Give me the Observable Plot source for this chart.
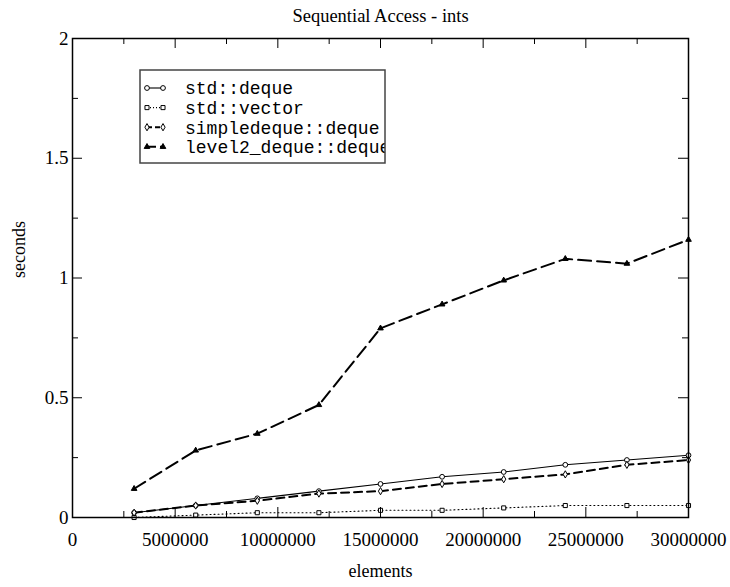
<!DOCTYPE html>
<html><head><meta charset="utf-8">
<script src="https://cdn.jsdelivr.net/npm/d3@7"></script>
<script src="https://cdn.jsdelivr.net/npm/@observablehq/plot@0.6"></script>
<style>body{margin:0;background:#fff} svg{display:block}</style>
</head><body><div id="chart"></div>
<script>
// ---- data ----
const sizes = [3000000, 6000000, 9000000, 12000000, 15000000, 18000000, 21000000, 24000000, 27000000, 30000000];
const stdDeque = [0.02, 0.05, 0.08, 0.11, 0.14, 0.17, 0.19, 0.22, 0.24, 0.26];
const stdVector = [0.00, 0.01, 0.02, 0.02, 0.03, 0.03, 0.04, 0.05, 0.05, 0.05];
const simpleDeque = [0.02, 0.05, 0.07, 0.10, 0.11, 0.14, 0.16, 0.18, 0.22, 0.24];
const level2Deque = [0.12, 0.28, 0.35, 0.47, 0.79, 0.89, 0.99, 1.08, 1.06, 1.16];
const seriesNames = ["std::deque", "std::vector", "simpledeque::deque", "level2_deque::deque"];
const xMajor = [0, 5000000, 10000000, 15000000, 20000000, 25000000, 30000000];
const xMinor = [2500000, 7500000, 12500000, 17500000, 22500000, 27500000];
const yMajor = [0, 0.5, 1, 1.5, 2];
const yMinor = [0.25, 0.75, 1.25, 1.75];
const titleText = "Sequential Access - ints";
const xLabel = "elements";
const yLabel = "seconds";

// ---- styles ----
const styles = [
  {dash: null, width: 1.1, symbol: "circle", fill: "white", r: 2.4, legDash: null},
  {dash: "1,3", width: 1.1, symbol: "square", fill: "white", r: 2.3, legDash: "1,2"},
  {dash: "8,5", width: 2, symbol: "diamond", fill: "white", r: 2.2, legDash: "5,3"},
  {dash: "13,6", width: 2, symbol: "triangle", fill: "black", r: 2.1, legDash: "9,4"}
];
const values = [stdDeque, stdVector, simpleDeque, level2Deque];
const series = seriesNames.map((name, i) => sizes.map((x, j) => ({name, x, y: values[i][j]})));

const W = 730, H = 587;
const mL = 72, mR = 42, mT = 38, mB = 70;
const fW = W - mL - mR, fH = H - mT - mB;
const serif = "Liberation Serif, Times New Roman, serif";

const marks = [];
series.forEach((s, i) => {
  const st = styles[i];
  marks.push(Plot.line(s, {x: "x", y: "y", stroke: "black", strokeWidth: st.width, strokeDasharray: st.dash}));
});
series.forEach((s, i) => {
  const st = styles[i];
  marks.push(Plot.dot(s, {x: "x", y: "y", symbol: () => st.symbol, r: st.r, fill: st.fill, stroke: "black", strokeWidth: 1}));
});
// inward ticks on all sides
marks.push(
  Plot.ruleX(xMajor, {x: d => d, insetTop: fH - 10, stroke: "black", strokeWidth: 1}),
  Plot.ruleX(xMinor, {x: d => d, insetTop: fH - 6, stroke: "black", strokeWidth: 1}),
  Plot.ruleX(xMajor, {x: d => d, insetBottom: fH - 10, stroke: "black", strokeWidth: 1}),
  Plot.ruleX(xMinor, {x: d => d, insetBottom: fH - 6, stroke: "black", strokeWidth: 1}),
  Plot.ruleY(yMajor, {y: d => d, insetRight: fW - 10, stroke: "black", strokeWidth: 1}),
  Plot.ruleY(yMinor, {y: d => d, insetRight: fW - 6, stroke: "black", strokeWidth: 1}),
  Plot.ruleY(yMajor, {y: d => d, insetLeft: fW - 10, stroke: "black", strokeWidth: 1}),
  Plot.ruleY(yMinor, {y: d => d, insetLeft: fW - 6, stroke: "black", strokeWidth: 1}),
  Plot.frame({stroke: "black", strokeWidth: 1.5}),
  Plot.text(xMajor, {x: d => d, text: d => d3.format("d")(d), frameAnchor: "bottom", dy: 22, lineAnchor: "middle", fontSize: 19, fill: "black"}),
  Plot.text(yMajor, {y: d => d, text: d => String(d), frameAnchor: "left", dx: -4, textAnchor: "end", lineAnchor: "middle", fontSize: 19, fill: "black"}),
  Plot.text([titleText], {text: d => d, frameAnchor: "top", dy: -22, lineAnchor: "middle", fontSize: 18.5, fill: "black"}),
  Plot.text([xLabel], {text: d => d, frameAnchor: "bottom", dy: 54, lineAnchor: "middle", fontSize: 18, fill: "black"}),
  Plot.text([yLabel], {text: d => d, frameAnchor: "left", dx: -53, rotate: -90, lineAnchor: "middle", fontSize: 18, fill: "black"})
);

const plot = Plot.plot({
  width: W, height: H,
  marginLeft: mL, marginRight: mR, marginTop: mT, marginBottom: mB,
  x: {domain: [0, 30000000], axis: null},
  y: {domain: [0, 2], axis: null},
  style: {fontFamily: serif, fontSize: "18px", background: "white", color: "black", overflow: "visible"},
  marks
});
document.getElementById("chart").appendChild(plot);

// ---- legend (inside frame, top-left) ----
const svg = d3.select(plot);
const lx = mL + 68, ly = mT + 32, lw = 245, lh = 93;
const g = svg.append("g").attr("text-anchor", "start");
g.append("clipPath").attr("id", "legclip").append("rect")
  .attr("x", lx).attr("y", ly).attr("width", lw).attr("height", lh);
g.append("rect").attr("x", lx).attr("y", ly).attr("width", lw).attr("height", lh)
  .attr("fill", "white").attr("stroke", "none");
const symMap = {circle: d3.symbolCircle, square: d3.symbolSquare, diamond: d3.symbolDiamond, triangle: d3.symbolTriangle};
seriesNames.forEach((name, i) => {
  const st = styles[i];
  const y = ly + 18 + i * 19.6;
  const x1 = lx + 7, x2 = lx + 23;
  g.append("line").attr("x1", x1).attr("x2", x2).attr("y1", y).attr("y2", y)
    .attr("stroke", "black").attr("stroke-width", st.width)
    .attr("stroke-dasharray", st.legDash);
  [x1, x2].forEach(x => {
    g.append("path").attr("d", d3.symbol(symMap[st.symbol], Math.PI * st.r * st.r)())
      .attr("transform", `translate(${x},${y})`)
      .attr("fill", st.fill).attr("stroke", "black").attr("stroke-width", 1);
  });
  g.append("text").attr("x", lx + 45).attr("y", y).attr("dy", "0.35em")
    .attr("text-anchor", "start")
    .attr("clip-path", "url(#legclip)")
    .attr("font-family", "Liberation Mono, Courier New, monospace").attr("font-size", 18)
    .attr("fill", "black").text(name);
});
g.append("rect").attr("x", lx).attr("y", ly).attr("width", lw).attr("height", lh)
  .attr("fill", "none").attr("stroke", "#444").attr("stroke-width", 1.5);
</script>
</body></html>
